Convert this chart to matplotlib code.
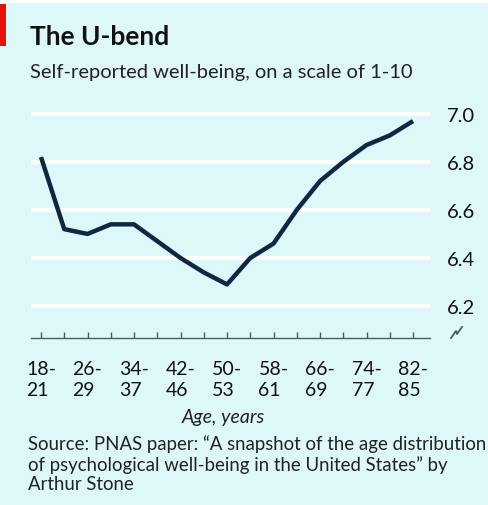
import matplotlib
matplotlib.use("Agg")
import matplotlib.pyplot as plt
from matplotlib.patches import Rectangle
from matplotlib.lines import Line2D

plt.rcParams['font.family'] = ['Lato', 'DejaVu Sans']

# age groups, 4-year bands from 18-21 to 82-85
age_groups = ["18-21", "22-25", "26-29", "30-33", "34-37", "38-41", "42-46", "47-49",
              "50-53", "54-57", "58-61", "62-65", "66-69", "70-73", "74-77", "78-81", "82-85"]
wellbeing = [6.82, 6.52, 6.50, 6.54, 6.54, 6.47, 6.40, 6.34, 6.29, 6.40, 6.46,
             6.60, 6.72, 6.80, 6.87, 6.91, 6.97]
yticks = [6.2, 6.4, 6.6, 6.8, 7.0]
xlabels = ["18-\n21", "26-\n29", "34-\n37", "42-\n46", "50-\n53",
           "58-\n61", "66-\n69", "74-\n77", "82-\n85"]

bg = "#def8fa"
W, H = 489, 506
fig = plt.figure(figsize=(W / 100, H / 100), dpi=100, facecolor=bg)

# white strip on top and red tag
fig.patches.append(Rectangle((0, 1 - 4 / H), 1, 4 / H, transform=fig.transFigure,
                             facecolor="white", edgecolor="none"))
fig.patches.append(Rectangle((0, 1 - 47 / H), 6 / W, 42 / H, transform=fig.transFigure,
                             facecolor="#e3120b", edgecolor="none"))

ax = fig.add_axes([31 / W, 1 - 339 / H, (430 - 31) / W, (339 - 110) / H])
ax.set_facecolor(bg)

x = list(range(len(wellbeing)))
for t in yticks:
    ax.axhline(t, color="white", lw=2.8, zorder=1)
ax.plot(x, wellbeing, color="#0f2742", lw=3.2, solid_capstyle="butt",
        solid_joinstyle="round", zorder=3)

ax.set_xlim(-0.43, 16.73)
ax.set_ylim(6.067, 7.02)

for s in ["top", "left", "right"]:
    ax.spines[s].set_visible(False)
ax.spines["bottom"].set_color("#4d5a60")
ax.spines["bottom"].set_linewidth(1.0)

ax.yaxis.tick_right()
ax.set_yticks(yticks)
ax.set_yticklabels([f"{t:.1f}" for t in yticks])
ax.tick_params(axis="y", length=0, pad=12, labelsize=14.5, labelcolor="#111111")

ax.set_xticks(x[::2])
ax.set_xticklabels(xlabels)
ax.set_xticks(x[1::2], minor=True)
ax.tick_params(axis="x", which="both", direction="in", length=4, width=1,
               color="#4d5a60", pad=16, labelsize=14, labelcolor="#111111")
for lab in ax.get_xticklabels():
    lab.set_linespacing(1.3)
    lab.set_multialignment("left")

# axis break mark
fig.add_artist(Line2D([451 / W, 456 / W, 457 / W, 462 / W],
                      [1 - 339 / H, 1 - 332 / H, 1 - 335 / H, 1 - 328 / H],
                      color="#4d5a60", lw=1.3))

fig.text(30 / W, 1 - 45 / H, "The U-bend", fontsize=19, fontweight="bold",
         color="#111111", va="baseline")
fig.text(30 / W, 1 - 78 / H, "Self-reported well-being, on a scale of 1-10",
         fontsize=14.5, color="#222222", va="baseline")
fig.text(223 / W, 1 - 423 / H, "Age, years", fontsize=14, style="italic",
         color="#222222", ha="center", va="baseline")
fig.text(28 / W, 1 - 435 / H,
         "Source: PNAS paper: \u201cA snapshot of the age distribution\n"
         "of psychological well-being in the United States\u201d by\n"
         "Arthur Stone",
         fontsize=13.4, color="#222222", va="top", linespacing=1.2)

fig.savefig("out.png", dpi=100, facecolor=bg)
